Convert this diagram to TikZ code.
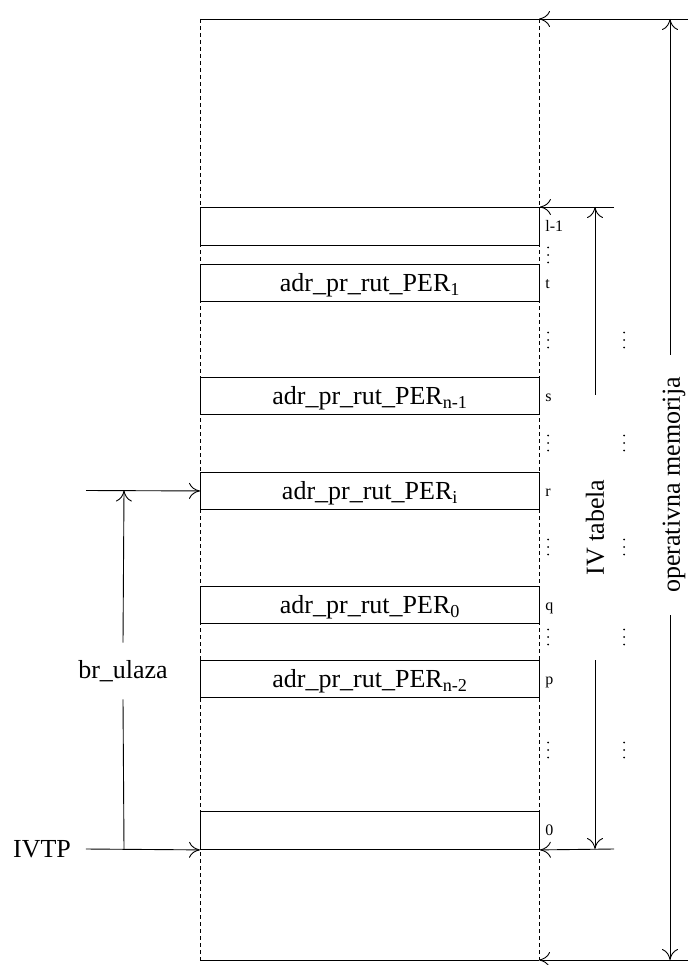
\documentclass[tikz,border=0pt]{standalone}
\usepackage{fontspec}
\setmainfont{Liberation Serif}
\usetikzlibrary{arrows.meta, positioning}

\begin{document}
\begin{tikzpicture}[
    x=1pt, y=-1pt,
    line width=0.9pt,
    slot/.style = {rectangle, draw, anchor=north west, minimum width=339pt, inner sep=0pt, text height=18pt, text depth=0pt, font=\fontsize{26}{30}\selectfont},
    adrlbl/.style = {anchor=west, inner sep=0pt, text height=11pt, text depth=0pt, font=\fontsize{16}{18}\selectfont},
    biglbl/.style = {inner sep=0pt, font=\fontsize{26}{30}\selectfont},
    wall/.style = {dash pattern=on 4pt off 3pt},
    >={To[length=11pt,width=16pt]}]

    \useasboundingbox (0,0) rectangle (688,965);

    % operativna memorija
    \coordinate (memNW) at (200,19);
    \coordinate (memNE) at (539,19);
    \coordinate (memSW) at (200,960);
    \coordinate (memSE) at (539,960);
    \coordinate (rimTop) at (688,19);
    \coordinate (rimBot) at (688,960);
    \coordinate (opTop) at (670,19);
    \coordinate (opBot) at (670,960);

    \draw[wall] (memNW) -- (memSW);
    \draw[wall] (memNE) -- (memSE);
    \draw (memNW) -- (memNE);
    \draw (memSW) -- (memSE);
    \draw[->] (rimTop) -- (memNE);
    \draw[->] (rimBot) -- (memSE);

    % ulazi IV tabele
    \node[slot, minimum height=38pt] (slotL) at (200,207) {};
    \node[slot, minimum height=37pt] (slotT) at (200,264) {adr\_pr\_rut\_PER\textsubscript{1}};
    \node[slot, minimum height=37pt] (slotS) at (200,377) {adr\_pr\_rut\_PER\textsubscript{n-1}};
    \node[slot, minimum height=37pt] (slotR) at (200,472) {adr\_pr\_rut\_PER\textsubscript{i}};
    \node[slot, minimum height=37pt] (slotQ) at (200,586) {adr\_pr\_rut\_PER\textsubscript{0}};
    \node[slot, minimum height=37pt] (slotP) at (200,660) {adr\_pr\_rut\_PER\textsubscript{n-2}};
    \node[slot, minimum height=38pt] (slotO) at (200,811) {};

    \node[adrlbl] (adrL) at ([xshift=5pt]slotL.east) {l-1};
    \node[adrlbl] (adrT) at ([xshift=5pt]slotT.east) {t};
    \node[adrlbl] (adrS) at ([xshift=5pt]slotS.east) {s};
    \node[adrlbl] (adrR) at ([xshift=5pt]slotR.east) {r};
    \node[adrlbl] (adrQ) at ([xshift=5pt]slotQ.east) {q};
    \node[adrlbl] (adrP) at ([xshift=5pt]slotP.east) {p};
    \node[adrlbl] (adrO) at ([xshift=5pt]slotO.east) {0};

    % tackice
    \foreach \y in {255,340,443,547,637,750}
        \foreach \d in {-7.5,0,7.5}
            \fill (548,\y+\d) circle (1pt);
    \foreach \y in {340,443,547,637,750}
        \foreach \d in {-7.5,0,7.5}
            \fill (624,\y+\d) circle (1pt);

    % IV tabela
    \coordinate (ivTopR) at (614,207);
    \coordinate (ivBotR) at (614,849);
    \coordinate (ivTop) at (595,207);
    \coordinate (ivBot) at (595,849);
    \node[biglbl, rotate=90, minimum width=265pt] (ivt) at (595,527.5) {IV tabela};
    \draw (slotL.north east) -- (ivTopR);
    \draw[->] (ivTopR) -- (slotL.north east);
    \draw[->] (ivBotR) -- (slotO.south east);
    \draw[->] (ivt.east) -- (ivTop);
    \draw[->] (ivt.west) -- (ivBot);

    \node[biglbl, rotate=90, minimum width=260pt] (opmem) at (674,485) {operativna memorija};
    \draw[->] (opmem.east -| opTop) -- (opTop);
    \draw[->] (opmem.west -| opBot) -- (opBot);

    % IVTP i br_ulaza
    \node[biglbl, outer xsep=15pt] (ivtp) at (42,849) {IVTP};
    \draw[->] (ivtp.east) -- (slotO.south west);
    \coordinate (inR) at (86,490.5);
    \draw[->] (inR) -- (slotR.west);
    \coordinate (brTop) at (124,490.5);
    \coordinate (brBot) at (124,849);
    \node[biglbl, minimum height=56pt] (brul) at (123,671) {br\_ulaza};
    \draw (brBot) -- (brul.south);
    \draw[->] (brul.north) -- (brTop);

\end{tikzpicture}
\end{document}
